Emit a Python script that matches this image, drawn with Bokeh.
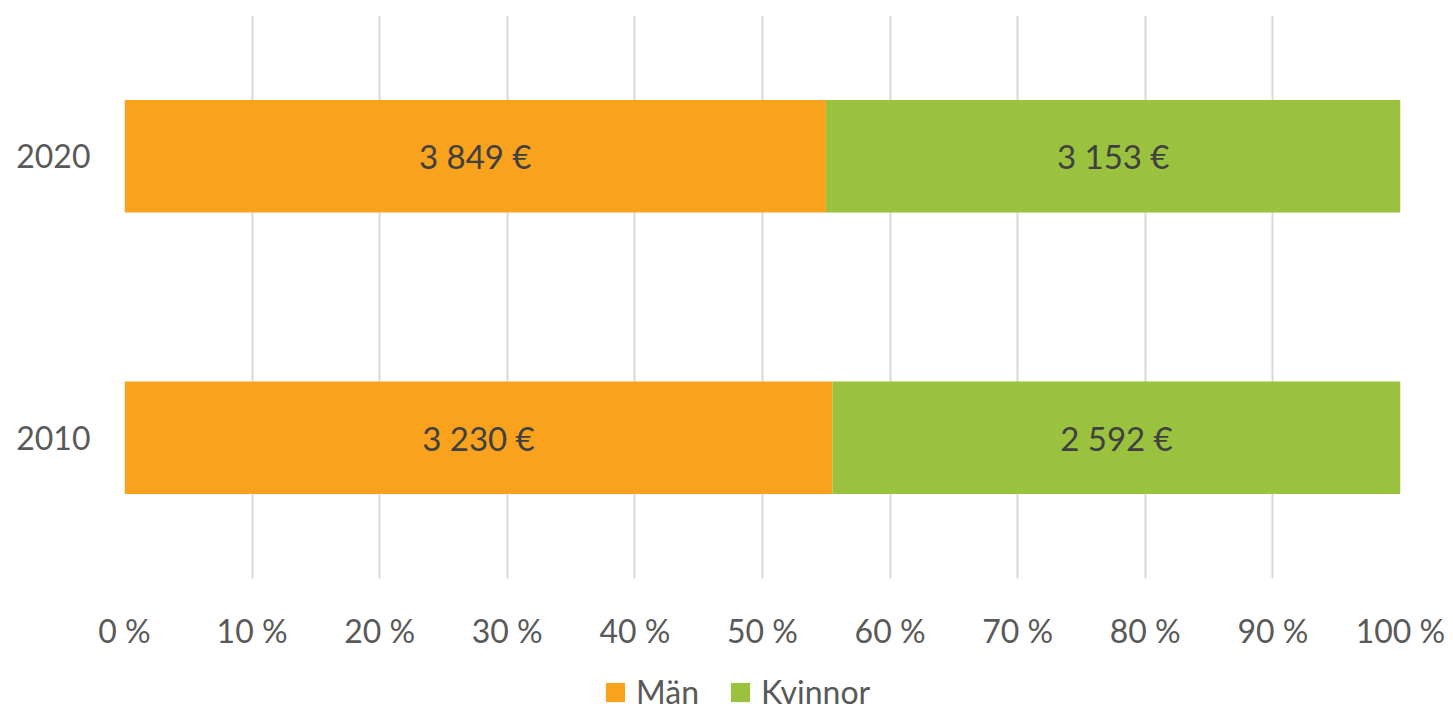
from bokeh.plotting import figure
from bokeh.models import Range1d, FixedTicker, Legend, LegendItem, ColumnDataSource, FactorRange
from bokeh.layouts import column
from bokeh.core.properties import value
from bokeh.embed import file_html
from bokeh.resources import INLINE

years = ["2010", "2020"]
man = [3230, 3849]
kvinnor = [2592, 3153]
series_names = ["Män", "Kvinnor"]
colors = ["#F9A21E", "#9AC23F"]
tick_values = [0, 10, 20, 30, 40, 50, 60, 70, 80, 90, 100]
tick_labels = ["0 %", "10 %", "20 %", "30 %", "40 %", "50 %", "60 %", "70 %", "80 %", "90 %", "100 %"]

FONT = "Lato"
TXT = "#595959"
FS = "32px"

tot = [a + b for a, b in zip(man, kvinnor)]
man_pct = [100.0 * a / t for a, t in zip(man, tot)]
kv_pct = [100.0 * b / t for b, t in zip(kvinnor, tot)]

def fmt(v):
    return f"{v:,}".replace(",", " ") + " €"

src = ColumnDataSource(dict(year=years, man=man_pct, kv=kv_pct))

p = figure(y_range=FactorRange(*years, range_padding=0), x_range=Range1d(0, 100),
           frame_width=1276, frame_height=563, width=1453, height=660,
           min_border_left=124, min_border_right=53, min_border_top=15, min_border_bottom=82,
           output_backend="svg", toolbar_location=None)

r = p.hbar_stack(["man", "kv"], y="year", height=0.4, color=colors, line_color=None, source=src)

lab_x = []
lab_y = []
lab_t = []
for i, y in enumerate(years):
    lab_x.append(man_pct[i] / 2); lab_y.append(y); lab_t.append(fmt(man[i]))
    lab_x.append(man_pct[i] + kv_pct[i] / 2); lab_y.append(y); lab_t.append(fmt(kvinnor[i]))
p.text(x=lab_x, y=lab_y, text=lab_t, text_align="center", text_baseline="middle",
       text_font=value(FONT), text_font_size="33px", text_color="#404040")

p.xaxis.ticker = FixedTicker(ticks=tick_values)
p.xaxis.major_label_overrides = {v: l for v, l in zip(tick_values, tick_labels)}
for ax in (p.xaxis, p.yaxis):
    ax.axis_line_color = None
    ax.major_tick_line_color = None
    ax.minor_tick_line_color = None
    ax.major_label_text_font = FONT
    ax.major_label_text_font_size = FS
    ax.major_label_text_color = TXT
p.xaxis.major_label_standoff = 26
p.yaxis.major_label_standoff = 28

p.xgrid.grid_line_color = "#D9D9D9"
p.xgrid.grid_line_width = 2
p.ygrid.grid_line_color = None
p.outline_line_color = None

# legend strip below the chart (its frame is aligned with the chart's frame)
lf = figure(width=1453, height=51, x_range=Range1d(0, 1), y_range=Range1d(0, 1),
            x_axis_location=None, y_axis_location=None, min_border=0,
            output_backend="svg", toolbar_location=None)
lf.grid.grid_line_color = None
lf.outline_line_color = None
proxy = ColumnDataSource(dict(y=[5], l=[5], r=[6]))
lr = [lf.hbar(y="y", left="l", right="r", height=0.1, color=c, line_color=None, source=proxy)
      for c in colors]
legend = Legend(items=[LegendItem(label=n, renderers=[g]) for n, g in zip(series_names, lr)],
                orientation="horizontal", location=(479, 0),
                label_text_font=FONT, label_text_font_size=FS, label_text_color=TXT,
                glyph_width=24, glyph_height=24, spacing=29, label_standoff=9,
                border_line_color=None, background_fill_alpha=0, padding=0, margin=0)
lf.add_layout(legend, "center")

layout = column(p, lf, spacing=0)
open("out.html", "w").write(file_html(layout, INLINE))
